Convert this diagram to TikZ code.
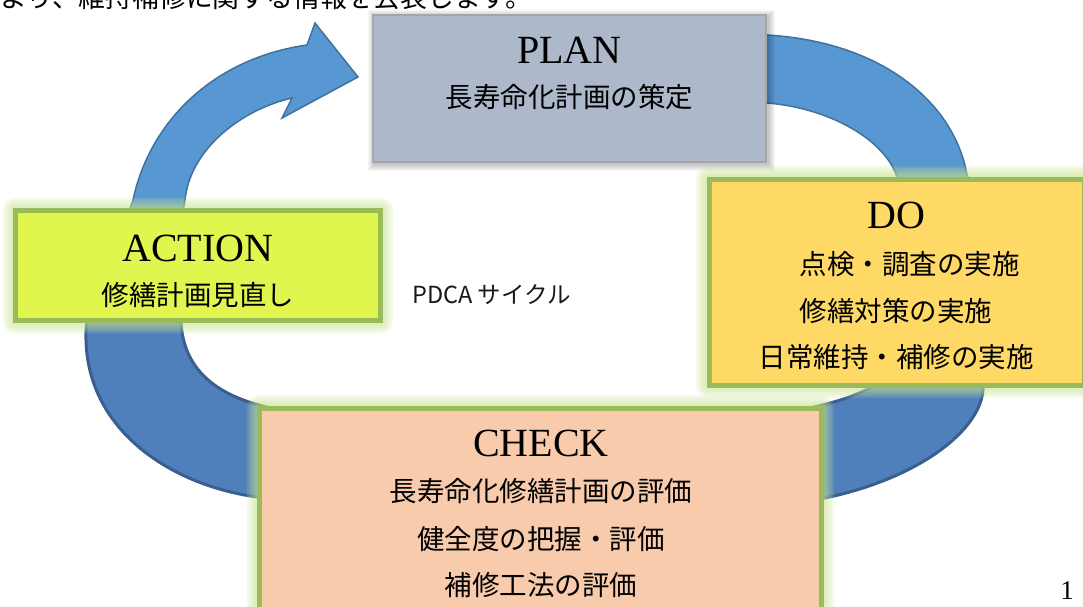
\documentclass[tikz,border=0pt]{standalone}
\usepackage{fontspec}
\setmainfont{Liberation Serif}
\newfontfamily\jp{Noto Sans CJK JP}
\definecolor{planfill}{HTML}{ADB9CA}
\definecolor{planborder}{HTML}{A5A5A5}
\definecolor{dofill}{HTML}{FFD966}
\definecolor{actfill}{HTML}{E1F54F}
\definecolor{chkfill}{HTML}{F8CBAD}
\definecolor{gborder}{HTML}{9BBB59}
\definecolor{glowc}{HTML}{C9E28F}
\definecolor{blueA}{HTML}{5797D2}
\definecolor{blueB}{HTML}{4F80BC}
\definecolor{blueline}{HTML}{41719C}
\definecolor{bluelineB}{HTML}{395F8E}
\newcommand\glowrect[4]{%
  \foreach \g in {13,11,...,3}{\fill[glowc, opacity=0.16, rounded corners=\g pt] (#1-\g,#2-\g) rectangle (#3+\g,#4+\g);}}
\begin{document}
\begin{tikzpicture}[x=1pt,y=-1pt,
  title/.style={font=\fontsize{40}{44}\selectfont, inner sep=0, anchor=base},
  jtext/.style={font=\jp\fontsize{27.5}{32}\selectfont, inner sep=0, anchor=base},
  gbox/.style={draw=gborder, line width=5pt, inner sep=0, outer sep=0, rectangle},
  pbox/.style={draw=planborder, fill=planfill, line width=2.5pt, inner sep=0, outer sep=0, rectangle},
]
\useasboundingbox (0,0) rectangle (1083,606);
\clip (0,0) rectangle (1083,606);

% top line (cut off by the page edge, as in the reference)
\node[jtext, anchor=base west, font=\jp\fontsize{26.8}{30}\selectfont] (topline) at (0,7) {より、維持補修に関する情報を公表します。};

% circular arrow
\path[save path=\ringp]
  (307,45) .. controls (215,58) and (150,120) .. (133,200)
  .. controls (116,250) and (84,290) .. (86,340)
  .. controls (88,430) and (170,485) .. (257,497)
  .. controls (400,525) and (680,525) .. (825,498)
  .. controls (920,478) and (980,430) .. (983,390)
  .. controls (990,330) and (995,230) .. (967,175)
  .. controls (955,105) and (885,42) .. (767,35)
  -- (640,30) -- (640,100) -- (767,103)
  .. controls (830,108) and (885,140) .. (897,177)
  .. controls (915,230) and (910,350) .. (870,388)
  .. controls (850,398) and (830,404) .. (800,410)
  .. controls (650,430) and (400,430) .. (280,410)
  .. controls (240,402) and (185,385) .. (181,323)
  .. controls (178,280) and (178,240) .. (185,200)
  .. controls (190,150) and (240,110) .. (292,98)
  -- (282,118) -- (358,77) -- (315,23) -- cycle;
\fill[blueA, use path=\ringp];
\draw[blueline, line width=1.5pt, use path=\ringp];
\begin{scope}
  \clip (0,270) rectangle (1083,606);
  \fill[blueB, use path=\ringp];
  \draw[bluelineB, line width=3pt, use path=\ringp];
\end{scope}

% PLAN
\foreach \s in {7,6,...,1}{\fill[black, opacity=0.035] (373-\s+1.5,15-\s+1.5) rectangle (766+\s+1.5,162+\s+1.5);}
\node[pbox, minimum width=393pt, minimum height=147pt] (plan) at (569.5,88.5) {};
\node[title] (plant) at (569.5,63) {PLAN};
\node[jtext] (planl) at (569.5,107) {長寿命化計画の策定};

% DO
\glowrect{709}{179}{1084}{385}
\node[gbox, fill=dofill, minimum width=375pt, minimum height=206pt] (do) at (896.5,282) {};
\node[title] (dot) at (896,228) {DO};
\node[jtext] (dol1) at (896,274) {　点検・調査の実施};
\node[jtext] (dol2) at (896,321) {修繕対策の実施};
\node[jtext] (dol3) at (896,367) {日常維持・補修の実施};

% ACTION
\glowrect{15.5}{210.5}{380}{320.5}
\node[gbox, fill=actfill, minimum width=364.5pt, minimum height=110pt] (act) at (197.75,265.5) {};
\node[title] (actt) at (197.75,261) {ACTION};
\node[jtext] (actl) at (197.75,305) {修繕計画見直し};

% CHECK
\glowrect{259.5}{408}{821}{640}
\node[gbox, fill=chkfill, minimum width=561.5pt, minimum height=232pt] (chk) at (540.25,524) {};
\node[title] (chkt) at (541,456) {CHECK};
\node[jtext] (chkl1) at (541,501) {長寿命化修繕計画の評価};
\node[jtext] (chkl2) at (541,549) {健全度の把握・評価};
\node[jtext] (chkl3) at (541,595) {補修工法の評価};

% centre label and page number
\node[font=\jp\fontsize{23.5}{28}\selectfont, inner sep=0, anchor=base west, text=black!90] (pdca) at (412,303) {PDCA サイクル};
\node[font=\fontsize{27}{30}\selectfont, inner sep=0, anchor=base east] (pnum) at (1074,599) {1};
\end{tikzpicture}
\end{document}
